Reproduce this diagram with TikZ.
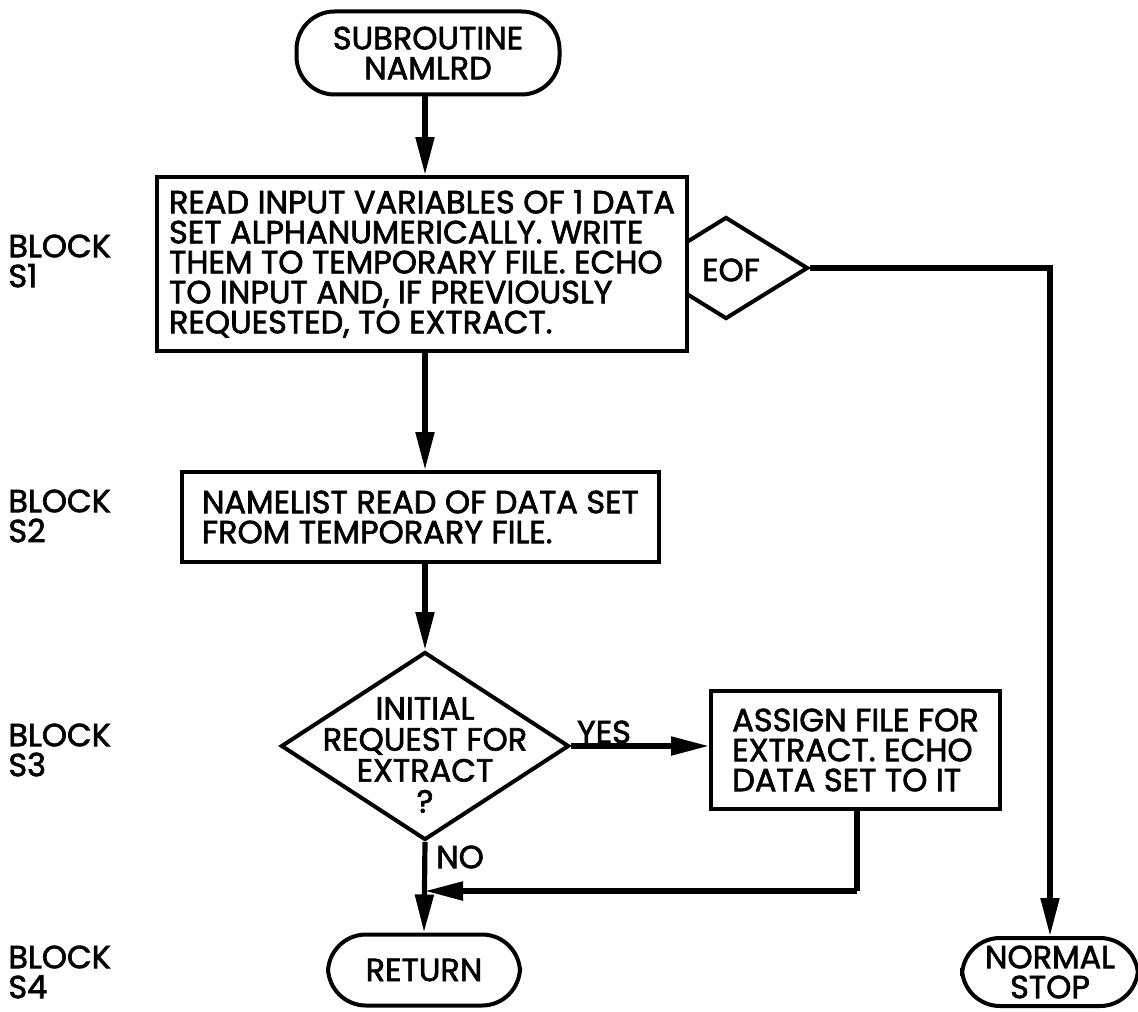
\documentclass[tikz,border=0pt]{standalone}
\usepackage{fontspec}
\setmainfont{Poppins}[FakeBold=2]
\usetikzlibrary{arrows.meta,shapes.geometric,calc}
\newcommand\refsize{\fontsize{16}{15}\selectfont}
\begin{document}
\begin{tikzpicture}[x=0.5pt,y=-0.5pt,
  every node/.style={font=\refsize, inner sep=0pt},
  box/.style={draw, line width=2pt, fill=white, align=left},
  term/.style={draw, line width=2pt, rounded corners=19pt, align=center},
  dia/.style={draw, diamond, line width=2pt, fill=white},
  lbl/.style={anchor=west, align=left},
  flow/.style={line width=2.6pt, -{Triangle[length=19pt,width=9pt]}},
  plain/.style={line width=2.6pt}]
\useasboundingbox (0,0) rectangle (1138,1011);
\coordinate (tr) at (425,0);
% terminals
\node[term, minimum width=131.5pt, minimum height=41.5pt] (start) at (428,53) {SUBROUTINE\\NAMLRD};
% EOF decision, partly under block S1
\node[dia, minimum width=82pt, minimum height=51pt] (eof) at (726,268) {};
% block S1
\node[box, anchor=north west, minimum width=265pt, minimum height=87pt,
      inner xsep=4pt] (s1) at (155,175)
  {READ INPUT VARIABLES OF 1 DATA\\SET ALPHANUMERICALLY. WRITE\\THEM TO TEMPORARY FILE. ECHO\\TO INPUT AND, IF PREVIOUSLY\\REQUESTED, TO EXTRACT.};
\node (eoft) at (731,270) {EOF};
% block S2
\node[box, anchor=north west, minimum height=45pt, inner xsep=10pt] (s2) at (180,470)
  {NAMELIST READ OF DATA SET\\FROM TEMPORARY FILE.};
% block S3
\node[dia, minimum width=144pt, minimum height=94pt] (s3) at (425,746) {};
\node[align=center, font=\fontsize{16}{15.5}\selectfont] (s3t) at (425,755) {INITIAL\\REQUEST FOR\\EXTRACT\\?};
\node[box, anchor=north west, minimum width=144.5pt, minimum height=59pt,
      inner xsep=8pt] (asg) at (709,689)
  {ASSIGN FILE FOR\\EXTRACT. ECHO\\DATA SET TO IT};
% block S4
\node[term, minimum width=96pt, minimum height=35.5pt] (ret) at (424,970) {RETURN};
\node[term, minimum width=88pt, minimum height=34pt] (stop) at (1050,972) {NORMAL\\STOP};
% block labels
\node[lbl] (b1) at (8,261) {BLOCK\\S1};
\node[lbl] (b2) at (8,516) {BLOCK\\S2};
\node[lbl] (b3) at (8,750) {BLOCK\\S3};
\node[lbl] (b4) at (8,972) {BLOCK\\S4};
% branch labels
\node (yes) at (604,732) {YES};
\node (no) at (460,857) {NO};
% connectors
\draw[flow] (tr |- start.south) -- (tr |- s1.north);
\draw[flow] (tr |- s1.south) -- (tr |- s2.north);
\draw[flow] (tr |- s2.south) -- (s3.north);
\draw[flow] (s3.east) -- (s3.east -| asg.west);
\draw[flow] (s3.south) -- (ret.north);
\coordinate (mx) at (857,891);
\draw[plain] (mx |- asg.south) -- (mx);
\draw[flow] (mx) -- (mx -| s3.south);
\draw[flow] (eof.east) -| (stop.north);
\end{tikzpicture}
\end{document}
